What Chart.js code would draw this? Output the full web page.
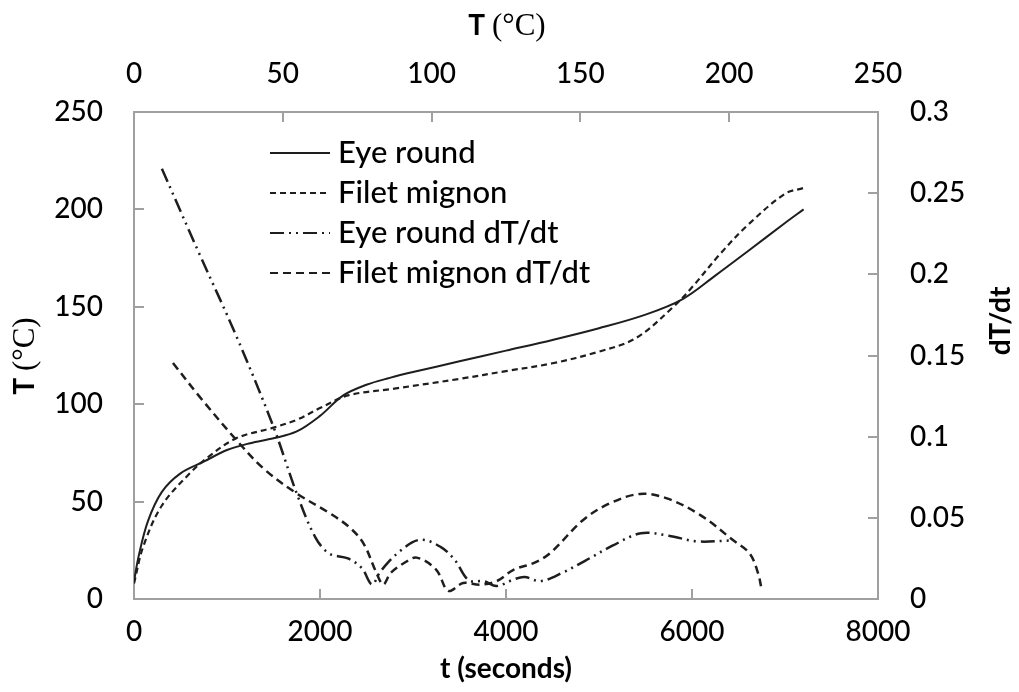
<!DOCTYPE html>
<html><head><meta charset="utf-8">
<script src="https://cdn.jsdelivr.net/npm/chart.js@4.4.0/dist/chart.umd.min.js"></script>
<style>html,body{margin:0;padding:0;background:#fff}#wrap{width:1019px;height:692px;position:relative}</style>
</head><body><div id="wrap"><canvas id="c"></canvas></div>
<script>
// ---- data ----
const eyeRoundTime = [0, 50, 150, 300, 500, 750, 1000, 1250, 1500, 1750, 2000, 2250, 2500, 2750, 3000, 3500, 4000, 4500, 5000, 5500, 5900, 6250, 6600, 7000, 7200];
const eyeRoundTemp = [9, 22, 40, 55, 64.5, 70.5, 76.5, 80, 82.5, 86, 94, 104.5, 110, 113.5, 116.5, 122, 127.5, 133, 139, 146, 154, 166, 178.5, 193, 200];

const filetTime = [0, 100, 300, 600, 800, 1100, 1500, 1750, 2000, 2300, 2800, 3500, 4000, 4500, 5000, 5400, 5800, 6000, 6300, 6600, 7000, 7200];
const filetTemp = [8, 27, 48, 64.5, 73, 82.5, 88, 92, 98, 104.5, 108, 113, 117, 121, 127, 134, 150, 160, 177, 192, 208, 211];

const eyeRoundRateTime = [300, 700, 1100, 1500, 1750, 1950, 2100, 2300, 2450, 2560, 2650, 2850, 3075, 3300, 3450, 3600, 3760, 3900, 4080, 4200, 4370, 4600, 4850, 5150, 5450, 5750, 6050, 6400];
const eyeRoundRate = [0.265, 0.213, 0.162, 0.106, 0.065, 0.038, 0.028, 0.025, 0.019, 0.009, 0.017, 0.029, 0.0365, 0.032, 0.024, 0.0115, 0.011, 0.008, 0.012, 0.0135, 0.011, 0.016, 0.0235, 0.033, 0.0405, 0.039, 0.0355, 0.036];

const filetRateTime = [419, 700, 1100, 1400, 1750, 2100, 2320, 2470, 2600, 2680, 2760, 2900, 3040, 3250, 3380, 3540, 3720, 3900, 4080, 4290, 4470, 4830, 5120, 5440, 5730, 6090, 6440, 6620, 6710, 6750];
const filetRate = [0.1454, 0.125, 0.098, 0.080, 0.065, 0.053, 0.044, 0.034, 0.017, 0.009, 0.016, 0.022, 0.0255, 0.018, 0.005, 0.0099, 0.0088, 0.011, 0.018, 0.022, 0.028, 0.0487, 0.059, 0.0647, 0.062, 0.0517, 0.0363, 0.028, 0.016, 0.0055];

const seriesLabels = ['Eye round', 'Filet mignon', 'Eye round dT/dt', 'Filet mignon dT/dt'];
const timeAxisRange = [0, 8000, 2000];
const tempAxisRange = [0, 250, 50];
const rateAxisRange = [0, 0.3, 0.05];
const topTempAxisRange = [0, 250, 50];

const SANS = 'Lato, "Open Sans", sans-serif';
const SERIF = '"Liberation Serif", "DejaVu Serif", serif';
const TICK_FONT = {family: SANS, size: 28, weight: '500'};
const AXIS_GRAY = '#a0a0a0';
const LINE = '#1e1e1e';

function pts(xs, ys) { return xs.map((x, i) => ({x, y: ys[i]})); }

// ---- plugins ----
const inwardTicks = {
  id: 'inwardTicks',
  afterDraw(chart) {
    const ctx = chart.ctx, a = chart.chartArea, L = 10;
    ctx.save();
    ctx.strokeStyle = AXIS_GRAY; ctx.lineWidth = 2;
    const s = chart.scales;
    const draw = (x1, y1, x2, y2) => { ctx.beginPath(); ctx.moveTo(x1, y1); ctx.lineTo(x2, y2); ctx.stroke(); };
    s.x.ticks.forEach(t => { const p = Math.round(s.x.getPixelForValue(t.value)); draw(p, a.bottom, p, a.bottom - L); });
    s.xTop.ticks.forEach(t => { const p = Math.round(s.xTop.getPixelForValue(t.value)); draw(p, a.top, p, a.top + L); });
    s.y.ticks.forEach(t => { const p = Math.round(s.y.getPixelForValue(t.value)); draw(a.left, p, a.left + L, p); });
    s.y2.ticks.forEach(t => { const p = Math.round(s.y2.getPixelForValue(t.value)); draw(a.right, p, a.right - L, p); });
    ctx.restore();
  }
};

function drawRuns(ctx, runs, cx, cy, rot, base) {
  ctx.save();
  ctx.translate(cx, cy); ctx.rotate(rot);
  let total = 0;
  runs.forEach(r => { ctx.font = r.font; r.w = ctx.measureText(r.text).width; total += r.w; });
  let x = -total / 2;
  ctx.textBaseline = 'alphabetic'; ctx.textAlign = 'left'; ctx.fillStyle = '#000';
  runs.forEach(r => { ctx.font = r.font; ctx.fillText(r.text, x, base); x += r.w; });
  ctx.restore();
}

const titles = {
  id: 'titles',
  afterDraw(chart) {
    const ctx = chart.ctx;
    const tRuns = () => [{text: 'T ', font: 'bold 28px ' + SANS}, {text: '(\u00B0C)', font: '31px ' + SERIF}];
    drawRuns(ctx, tRuns(), 507, 25, 0, 10);
    drawRuns(ctx, tRuns(), 24, 356, -Math.PI / 2, 10);
    drawRuns(ctx, [{text: 'dT/dt', font: 'bold 28px ' + SANS}], 1000, 321, -Math.PI / 2, 10);
  }
};

const innerLegend = {
  id: 'innerLegend',
  afterDatasetsDraw(chart) {
    const ctx = chart.ctx;
    const x0 = 270, x1 = 330, tx = 338, y0 = 153, dy = 40;
    ctx.save();
    chart.data.datasets.forEach((ds, i) => {
      const y = y0 + i * dy;
      ctx.strokeStyle = ds.borderColor; ctx.lineWidth = 2;
      ctx.setLineDash(ds.borderDash || []);
      ctx.beginPath(); ctx.moveTo(x0, y); ctx.lineTo(x1, y); ctx.stroke();
      ctx.setLineDash([]);
      ctx.fillStyle = '#000'; ctx.font = '500 31px ' + SANS;
      ctx.textBaseline = 'middle'; ctx.textAlign = 'left';
      ctx.fillText(ds.label, tx, y);
    });
    ctx.restore();
  }
};

new Chart(document.getElementById('c'), {
  type: 'line',
  data: {
    datasets: [
      {label: seriesLabels[0], data: pts(eyeRoundTime, eyeRoundTemp), yAxisID: 'y', borderColor: LINE, borderWidth: 2, borderDash: [], tension: 0.35, pointRadius: 0, fill: false},
      {label: seriesLabels[1], data: pts(filetTime, filetTemp), yAxisID: 'y', borderColor: LINE, borderWidth: 2.2, borderDash: [6, 4], tension: 0.35, pointRadius: 0, fill: false},
      {label: seriesLabels[2], data: pts(eyeRoundRateTime, eyeRoundRate), yAxisID: 'y2', borderColor: LINE, borderWidth: 2.5, borderDash: [14, 5, 2, 5, 2, 5], tension: 0.35, pointRadius: 0, fill: false},
      {label: seriesLabels[3], data: pts(filetRateTime, filetRate), yAxisID: 'y2', borderColor: LINE, borderWidth: 2.5, borderDash: [8, 5], tension: 0.35, pointRadius: 0, fill: false}
    ]
  },
  options: {
    responsive: true, maintainAspectRatio: false, animation: false,
    layout: {padding: 0},
    plugins: {legend: {display: false}, tooltip: {enabled: false}},
    scales: {
      x: {
        type: 'linear', position: 'bottom', min: timeAxisRange[0], max: timeAxisRange[1],
        ticks: {stepSize: timeAxisRange[2], color: '#000', font: TICK_FONT, padding: 16, maxRotation: 0, callback: v => String(v)},
        grid: {display: false, drawTicks: false},
        border: {display: true, color: AXIS_GRAY, width: 2},
        title: {display: true, text: 't (seconds)', color: '#000', font: {family: SANS, size: 28, weight: 'bold'}, padding: {top: 0, bottom: 6}},
        afterFit: s => { s.height = 93; }
      },
      xTop: {
        type: 'linear', position: 'top', min: topTempAxisRange[0], max: topTempAxisRange[1],
        ticks: {stepSize: topTempAxisRange[2], color: '#000', font: TICK_FONT, padding: 21, maxRotation: 0, callback: v => String(v)},
        grid: {display: false, drawTicks: false},
        border: {display: true, color: AXIS_GRAY, width: 2},
        afterFit: s => { s.height = 112; }
      },
      y: {
        type: 'linear', position: 'left', min: tempAxisRange[0], max: tempAxisRange[1],
        ticks: {stepSize: tempAxisRange[2], color: '#000', font: TICK_FONT, padding: 31, callback: v => String(v)},
        grid: {display: false, drawTicks: false},
        border: {display: true, color: AXIS_GRAY, width: 2},
        afterFit: s => { s.width = 134; }
      },
      y2: {
        type: 'linear', position: 'right', min: rateAxisRange[0], max: rateAxisRange[1],
        ticks: {stepSize: rateAxisRange[2], color: '#000', font: TICK_FONT, padding: 32, callback: v => String(+v.toFixed(2))},
        grid: {display: false, drawTicks: false},
        border: {display: true, color: AXIS_GRAY, width: 2},
        afterFit: s => { s.width = 141; }
      }
    }
  },
  plugins: [inwardTicks, titles, innerLegend]
});
</script></body></html>
